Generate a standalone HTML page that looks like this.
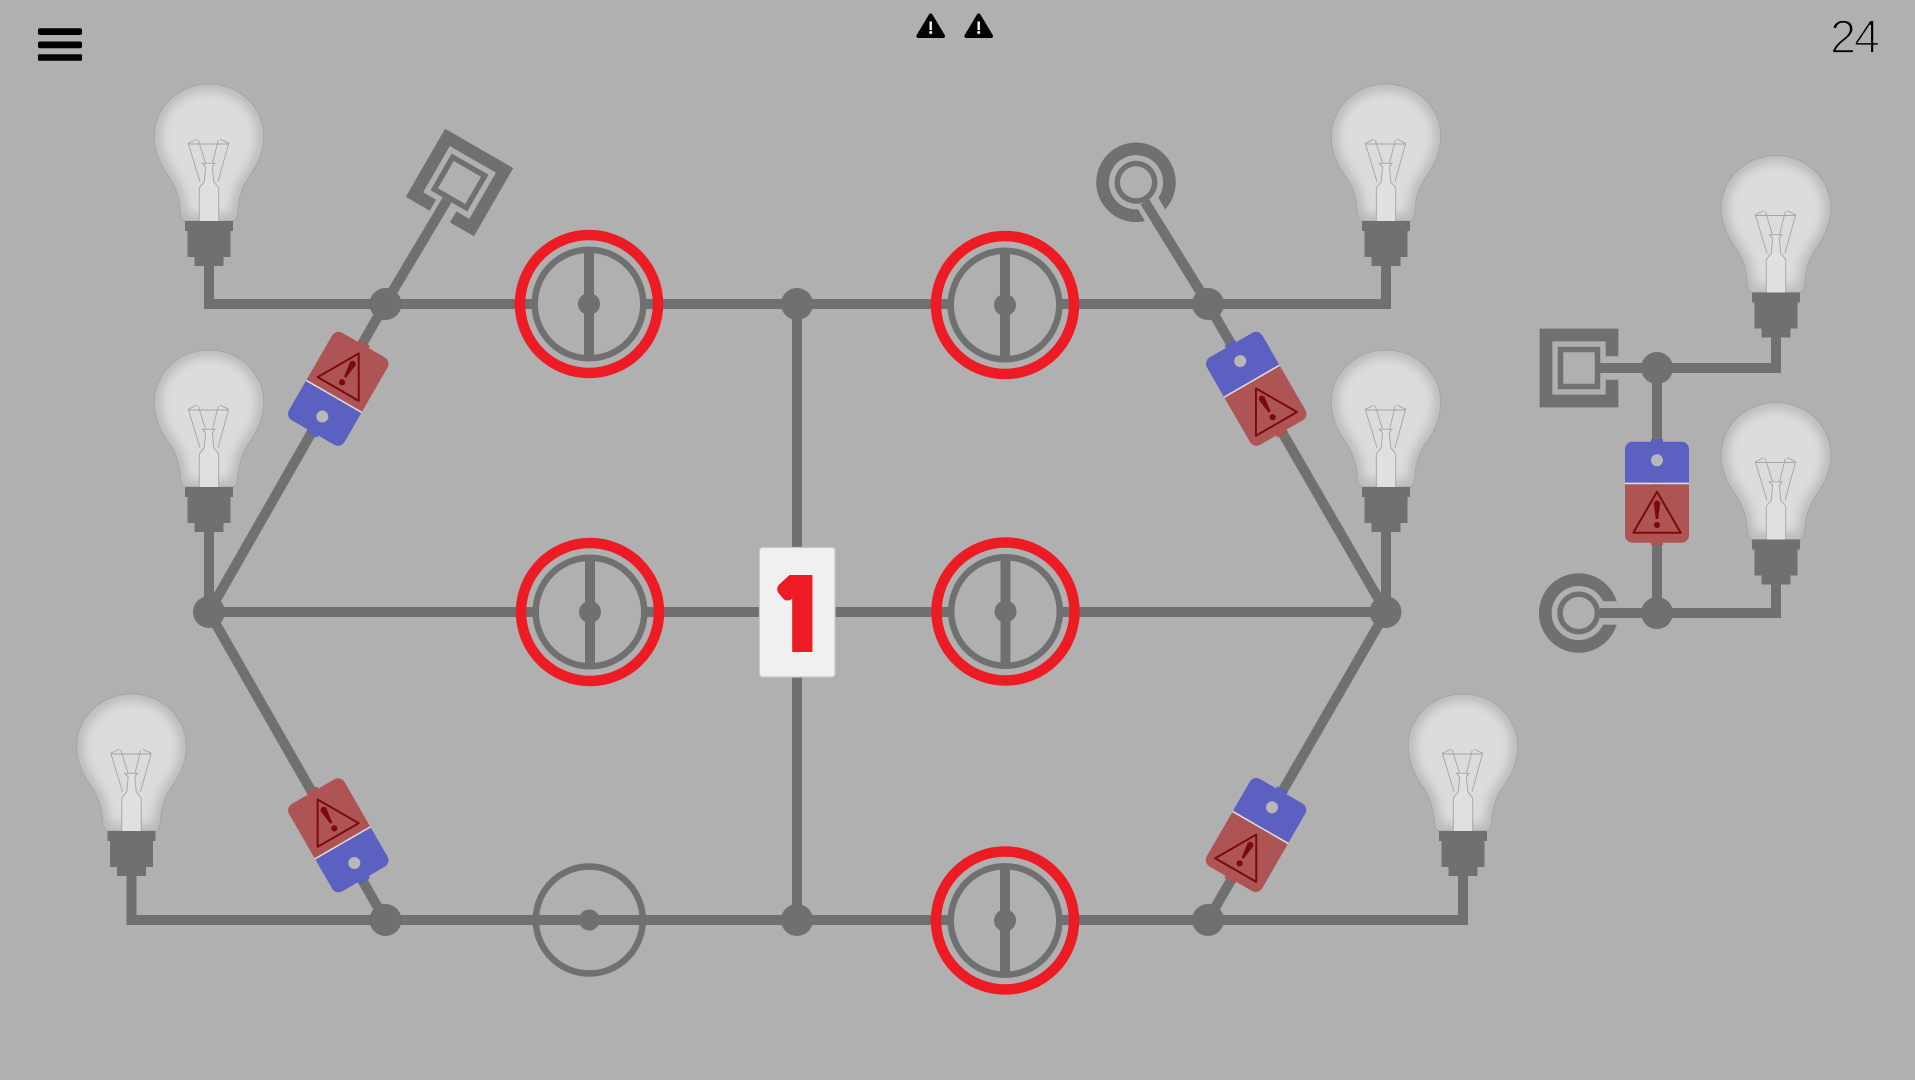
<!DOCTYPE html>
<html><head><meta charset="utf-8"><style>html,body{margin:0;padding:0;background:#b0b0b0}svg{display:block}</style></head><body>
<svg width="1915" height="1080" viewBox="0 0 1915 1080" xmlns="http://www.w3.org/2000/svg">
<defs>
<filter id="blur" x="-30%" y="-30%" width="160%" height="160%"><feGaussianBlur stdDeviation="5.5"/></filter>
<clipPath id="oneclip"><rect x="770" y="575" width="43" height="77"/></clipPath>
<path id="bshape" d="M-24,137 Q-28,135 -28.7,127 C-29.5,113 -33,104 -38,96 C-45,86 -54.7,72 -54.7,52 C-54.7,23 -30,0 0,0 C30,0 54.7,23 54.7,52 C54.7,72 45,86 38,96 C33,104 29.5,113 28.7,127 Q28,135 24,137 Z"/>
<clipPath id="bclip"><use href="#bshape"/></clipPath>
<g id="bulb">
<use href="#bshape" fill="#dcdcdd"/>
<g clip-path="url(#bclip)"><use href="#bshape" fill="none" stroke="#b2b2b2" stroke-width="11" filter="url(#blur)"/></g>
<use href="#bshape" fill="none" stroke="#a0a0a0" stroke-width=".7"/>
<path d="M-9.7,137V104L-4.7,97.7 -3.3,82.7 -6.7,79.3H6L3.3,82.7 4.7,97.7 9.7,104V137" fill="#e0e0e1" stroke="#a4a4a4" stroke-width=".9"/>
<path d="M-9,97.7L-20.7,59.3 -12,55M9,97.7L19.7,59.3 11,55M-20,60H19M-3.5,79.3L-10.7,56M3.5,79.3L9.3,56" fill="none" stroke="#a4a4a4" stroke-width=".9"/>
<path d="M-24,137H24V147H-24ZM-21.5,147H21.5V173H-21.5ZM-14.5,173H14.5V182H-14.5Z" fill="#707070"/>
</g>
<g id="sq">
<path d="M-11.7,33 H-33V-33H33V33H11.7" fill="none" stroke="#707070" stroke-width="12.7"/>
<rect x="-18.5" y="-18.5" width="37" height="37" fill="none" stroke="#707070" stroke-width="5.5"/>
</g>
<g id="ci">
<circle r="33.4" fill="none" stroke="#707070" stroke-width="12.7"/>
<rect x="-11.7" y="24" width="23.4" height="20" fill="#b0b0b0"/>
<circle r="18.7" fill="none" stroke="#707070" stroke-width="5.5"/>
</g>
<g id="tri">
<path d="M0,-27.3L23.7,13.7H-23.7Z" fill="none" stroke="#7b0a0a" stroke-width="2" stroke-linejoin="round"/>
<path d="M-3.3,-16 Q0,-21 3.3,-16 L1.2,0 H-1.2Z" fill="#7b0a0a"/>
<circle cy="6" r="3.1" fill="#7b0a0a"/>
</g>
<g id="batt">
<rect x="-6" y="-53" width="12" height="6" fill="#5c60c0"/>
<rect x="-6" y="47" width="12" height="6" fill="#ae5454"/>
<path d="M-32,-9.5V-43a7.5,7.5 0 0 1 7.5,-7.5H24.5a7.5,7.5 0 0 1 7.5,7.5V-9.5Z" fill="#5c60c0"/>
<path d="M-32,-8V43a7.5,7.5 0 0 0 7.5,7.5H24.5a7.5,7.5 0 0 0 7.5,-7.5V-8Z" fill="#ae5454"/>
<rect x="-32" y="-9.5" width="64" height="1.5" fill="#dcdcdc"/>
<circle cy="-32" r="6" fill="#b8b8b8"/>
</g>
<g id="ring">
<circle r="57" fill="#b0b0b0"/>
<circle r="54.3" fill="none" stroke="#707070" stroke-width="6.5"/>
<rect x="-5" y="-54" width="10" height="108" fill="#707070"/>
<circle r="11" fill="#707070"/>
<circle r="69" fill="none" stroke="#ed1c24" stroke-width="10.5"/>
</g>
</defs>
<rect width="1915" height="1080" fill="#b0b0b0"/>

<g fill="none" stroke="#707070" stroke-width="10">
<path d="M209,260V304H1386V260"/>
<path d="M209,520V612H1386V520"/>
<path d="M131.5,870V920H1463V870"/>
<path d="M797,304V920"/>
<path d="M447,200L385,304L209,612L385,920"/>
<path d="M1145,202L1208,304L1386,612L1208,920"/>
<path d="M1776,330V368H1600M1657,368V613M1776,575V613H1600"/>
</g>

<g fill="#707070">
<circle cx="385.5" cy="304" r="16"/><circle cx="797" cy="304" r="16"/><circle cx="1208" cy="304" r="16"/>
<circle cx="209" cy="612" r="16"/><circle cx="1385.5" cy="612" r="16"/>
<circle cx="385.5" cy="920" r="16"/><circle cx="797" cy="920" r="16"/><circle cx="1208" cy="920" r="16"/>
<circle cx="1657" cy="368" r="16"/><circle cx="1657" cy="613" r="16"/>
</g>

<use href="#bulb" x="209" y="84"/><use href="#bulb" x="209" y="350"/><use href="#bulb" x="131.5" y="694"/>
<use href="#bulb" x="1386" y="84"/><use href="#bulb" x="1386" y="350"/><use href="#bulb" x="1463" y="694"/>
<use href="#bulb" x="1776" y="155.5"/><use href="#bulb" x="1776" y="402.5"/>

<use href="#ring" x="589" y="304"/><use href="#ring" x="1005" y="305"/>
<use href="#ring" x="590" y="612"/><use href="#ring" x="1005.5" y="611.5"/>
<use href="#ring" x="1005" y="920.5"/>
<circle cx="589.3" cy="920" r="53.5" fill="none" stroke="#707070" stroke-width="6.5"/>
<circle cx="589.3" cy="920" r="10.5" fill="#707070"/>

<g transform="translate(338.3,388.8) rotate(210)"><use href="#batt"/><g transform="translate(0,13.5) rotate(-180)"><use href="#tri"/></g></g>
<g transform="translate(338.3,835.3) rotate(150)"><use href="#batt"/><g transform="translate(0,14) rotate(-180)"><use href="#tri"/></g></g>
<g transform="translate(1256.2,388.8) rotate(-30)"><use href="#batt"/><g transform="translate(0,26.8)"><use href="#tri"/></g></g>
<g transform="translate(1256,835) rotate(30)"><use href="#batt"/><g transform="translate(0,26.8)"><use href="#tri"/></g></g>
<g transform="translate(1657,492.2)"><use href="#batt"/><g transform="translate(0,26.8)"><use href="#tri"/></g></g>

<g transform="translate(459.5,182.5) rotate(30)"><use href="#sq"/></g>
<g transform="translate(1579,368) rotate(-90)"><use href="#sq"/></g>
<g transform="translate(1136,182.3) rotate(-30)"><use href="#ci"/></g>
<g transform="translate(1578.7,613) rotate(-90)"><use href="#ci"/></g>
<path d="M447,200L385,304M1145,202L1208,304M1600,368H1640M1600,613H1640" stroke="#707070" stroke-width="10" fill="none"/>

<rect x="759.5" y="547.5" width="75.5" height="129.5" rx="3" fill="#f0f0f0" stroke="#c8c8c8" stroke-width="1.2"/>
<g clip-path="url(#oneclip)"><text x="800" y="652" font-family="NanumGothic,'Noto Sans CJK JP',sans-serif" font-weight="700" font-size="105" text-anchor="middle" fill="#ed1c24" stroke="#ed1c24" stroke-width="9" stroke-linejoin="miter">1</text></g>

<g fill="#000">
<rect x="38" y="28.3" width="44" height="6.7" rx="2"/><rect x="38" y="41.5" width="44" height="6.7" rx="2"/><rect x="38" y="54.3" width="44" height="6.5" rx="1"/>
<path d="M930.7,15.5L943,36H918.4Z" stroke="#000" stroke-width="4" stroke-linejoin="round"/>
<path d="M978.7,15.5L991,36H966.4Z" stroke="#000" stroke-width="4" stroke-linejoin="round"/>
</g>
<g fill="#fff"><rect x="929.5" y="21.5" width="2.4" height="8.5"/><circle cx="930.7" cy="32.5" r="1.5"/><rect x="977.5" y="21.5" width="2.4" height="8.5"/><circle cx="978.7" cy="32.5" r="1.5"/></g>

<text x="1830" y="53" font-family="'Liberation Sans',sans-serif" font-size="47" textLength="50" fill="#000" stroke="#b0b0b0" stroke-width="1.7" paint-order="fill stroke">24</text>
</svg>
</body></html>
